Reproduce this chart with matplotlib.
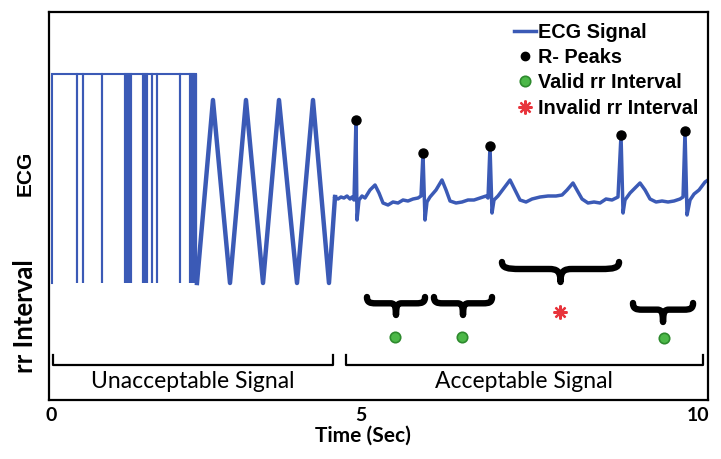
import matplotlib
matplotlib.use("Agg")
import matplotlib.pyplot as plt
from matplotlib.path import Path
from matplotlib.patches import PathPatch
from matplotlib.lines import Line2D

# unacceptable part: saturated signal with dropouts, then a triangle artefact
sat_start = 0.015
sat_high = 1.26
sat_low = -0.83
dropouts = [0.40, 0.49, 0.78, 1.13, 1.16, 1.19, 1.22, 1.405, 1.435, 1.466,
            1.542, 1.618, 1.969, 2.122, 2.153, 2.183, 2.214]

tri_t = [2.229, 2.473, 2.733, 2.977, 3.237, 3.481, 3.756, 4.000, 4.244, 4.336]
tri_v = [-0.83, 1.00, -0.83, 1.00, -0.83, 1.00, -0.83, 1.00, -0.83, 0.03]

# acceptable part: ECG trace
ecg_t = [4.336, 4.382, 4.427, 4.473, 4.519, 4.565, 4.595, 4.626,
         4.656, 4.672, 4.702, 4.748, 4.794,
         4.870, 4.947, 5.008, 5.069, 5.145, 5.221, 5.298, 5.374, 5.450, 5.527, 5.603, 5.649,
         5.679, 5.710, 5.740, 5.786, 5.878, 5.969, 6.031, 6.092, 6.183, 6.275, 6.366, 6.458,
         6.550, 6.641, 6.672,
         6.702, 6.733, 6.763, 6.824, 6.916, 7.008, 7.084, 7.160, 7.252, 7.344, 7.466, 7.588,
         7.710, 7.802, 7.878, 7.969, 8.046, 8.107, 8.198, 8.290, 8.382, 8.473, 8.565, 8.656,
         8.702, 8.733, 8.763, 8.840, 8.916, 8.992, 9.069, 9.145, 9.237, 9.328, 9.420, 9.511,
         9.603, 9.649,
         9.679, 9.710, 9.756, 9.817, 9.893, 9.985, 10.031]
ecg_v = [0.03, 0.01, 0.03, 0.02, 0.04, 0.01, 0.03, 0.00,
         0.80, -0.20, 0.00, 0.04, 0.02,
         0.10, 0.15, 0.07, -0.03, -0.05, -0.02, -0.03, 0.00, -0.01, 0.01, 0.02, 0.04,
         0.47, -0.20, -0.02, 0.03, 0.10, 0.20, 0.10, -0.01, -0.03, -0.02, 0.00, 0.00,
         0.02, 0.04, 0.02,
         0.54, -0.13, 0.00, 0.04, 0.12, 0.20, 0.10, 0.00, -0.02, 0.01, 0.03, 0.04,
         0.04, 0.05, 0.10, 0.17, 0.08, 0.01, -0.03, -0.02, -0.03, 0.01, 0.00, 0.03,
         0.65, -0.13, 0.00, 0.07, 0.12, 0.17, 0.10, 0.01, -0.02, -0.01, -0.02, -0.01,
         0.01, 0.03,
         0.69, -0.15, 0.00, 0.06, 0.10, 0.18, 0.20]

r_t = [4.656, 5.679, 6.702, 8.702, 9.679]
r_v = [0.80, 0.47, 0.54, 0.65, 0.69]

# rr intervals
brace_start = [4.824, 5.847, 6.885, 8.885]
brace_end = [5.710, 6.733, 8.672, 9.802]
brace_top = [-0.97, -0.97, -0.62, -1.03]
brace_tip = [-1.15, -1.15, -0.82, -1.22]

valid_t = [5.252, 6.275, 9.359]
valid_v = [-1.37, -1.37, -1.38]
invalid_t = [7.771]
invalid_v = [-1.12]

segments = ["Unacceptable Signal", "Acceptable Signal"]
seg_start = [0.03, 4.50]
seg_end = [4.31, 9.95]

tick_pos = [0.0, 4.73, 9.88]
tick_lab = ["0", "5", "10"]

blue = "#3b5ab6"
green = "#4cb848"
green_edge = "#2e8a2e"
red = "#e8343c"

fig = plt.figure(figsize=(7.21, 4.59), dpi=100)
ax = fig.add_axes([49 / 721, 59 / 459, 659 / 721, 388 / 459])

# saturated part
sx = [sat_start, sat_start]
sy = [sat_low, sat_high]
for d in dropouts:
    sx += [d, d, d]
    sy += [sat_high, sat_low, sat_high]
sx.append(dropouts[-1])
sy.append(sat_low)
ax.plot(sx, sy, color=blue, lw=1.5, solid_joinstyle="miter")
ax.plot(tri_t, tri_v, color=blue, lw=3.2)
ax.plot(ecg_t, ecg_v, color=blue, lw=2.5)
ax.plot(r_t, r_v, "o", color="black", ms=6.5, zorder=5)


def brace(x0, x1, ytop, ytip):
    w = x1 - x0
    h = ytip - ytop
    pts = [(0, 0), (0, 0.3), (0.05, 0.35), (0.15, 0.35),
           (0.4, 0.35),
           (0.47, 0.35), (0.5, 0.45), (0.5, 1.0),
           (0.5, 0.45), (0.53, 0.35), (0.6, 0.35),
           (0.85, 0.35),
           (0.95, 0.35), (1.0, 0.3), (1.0, 0.0)]
    codes = [Path.MOVETO, Path.CURVE4, Path.CURVE4, Path.CURVE4,
             Path.LINETO,
             Path.CURVE4, Path.CURVE4, Path.CURVE4,
             Path.CURVE4, Path.CURVE4, Path.CURVE4,
             Path.LINETO,
             Path.CURVE4, Path.CURVE4, Path.CURVE4]
    verts = [(x0 + u * w, ytop + v * h) for u, v in pts]
    ax.add_patch(PathPatch(Path(verts, codes), fill=False, lw=4.6, color="black",
                           capstyle="round", joinstyle="round"))


for a, b, t, p in zip(brace_start, brace_end, brace_top, brace_tip):
    brace(a, b, t, p)

ax.plot(valid_t, valid_v, "o", ms=7.5, mfc=green, mec=green_edge, mew=1.2)
ax.plot(invalid_t, invalid_v, marker=(8, 2, 0), ls="none", ms=10, color=red, mew=1.6)

# segment brackets
for name, a, b in zip(segments, seg_start, seg_end):
    ax.plot([a, a, b, b], [-1.55, -1.65, -1.65, -1.55], color="black", lw=1.6)
    ax.text((a + b) / 2, -1.82, name, ha="center", va="center",
            fontsize=16.5, family="Lato")

ax.set_xlim(-0.03, 10.03)
ax.set_ylim(-2.0, 1.88)
ax.set_xticks(tick_pos)
ax.set_xticklabels(tick_lab, fontsize=14, fontweight="bold", family="Lato")
ax.set_yticks([])
ax.tick_params(axis="x", length=0, pad=5)
for s in ax.spines.values():
    s.set_linewidth(1.6)

fig.text(363 / 721, 1 - 436 / 459, "Time (Sec)", ha="center", va="center",
         fontsize=15, fontweight="bold", family="Lato")
fig.text(25 / 721, 1 - 173 / 459, "ECG", rotation=90, ha="center", va="center",
         fontsize=15, fontweight="bold", family="Liberation Sans")
fig.text(25 / 721, 1 - 316 / 459, "rr Interval", rotation=90, ha="center", va="center",
         fontsize=18.5, fontweight="bold", family="Lato")

handles = [Line2D([], [], color=blue, lw=2.5),
           Line2D([], [], ls="none", marker="o", color="black", ms=6),
           Line2D([], [], ls="none", marker="o", ms=7.5, mfc=green, mec=green_edge, mew=1.2),
           Line2D([], [], ls="none", marker=(8, 2, 0), ms=10, color=red, mew=1.6)]
labels = ["ECG Signal", "R- Peaks", "Valid rr Interval", "Invalid rr Interval"]
ax.legend(handles, labels, loc="upper left", bbox_to_anchor=(514 / 721, 1 - 22.5 / 459),
          bbox_transform=fig.transFigure, frameon=False,
          prop={"family": "Liberation Sans", "weight": "bold", "size": 14.3},
          handlelength=1.1, handletextpad=0.12, labelspacing=0.32,
          borderpad=0, borderaxespad=0)

fig.savefig("out.png", dpi=100)
